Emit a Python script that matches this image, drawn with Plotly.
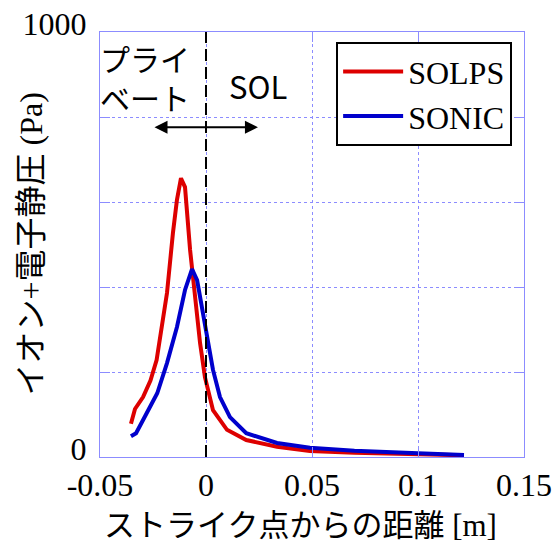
import plotly.graph_objects as go

# SOLPS (red)
solps_x = [-0.0354, -0.0335, -0.0297, -0.0262, -0.0233, -0.0184, -0.0156, -0.0137,
           -0.0118, -0.0099, -0.0075, -0.0052, -0.0028, -0.0005, 0.0033, 0.0099,
           0.019, 0.0335, 0.049, 0.07, 0.1, 0.1217]
solps_y = [78, 113, 141, 180, 228, 386, 527, 605, 656, 635, 487, 369, 268, 188,
           110, 64, 40, 24, 14, 10, 6, 4]

# SONIC (blue)
sonic_x = [-0.0354, -0.033, -0.028, -0.023, -0.0184, -0.0137, -0.0099, -0.0066,
           -0.0042, -0.0019, 0.0005, 0.0033, 0.0066, 0.0113, 0.019, 0.0335,
           0.049, 0.07, 0.1, 0.1217]
sonic_y = [49, 56, 103, 150, 221, 306, 393, 442, 416, 353, 282, 205, 141, 94,
           56, 33, 22, 15, 9, 5]

x_ticks = [-0.05, 0, 0.05, 0.1, 0.15]
x_tick_text = ["-0.05", "0", "0.05", "0.1", "0.15"]
y_ticks = [0, 200, 400, 600, 800, 1000]
y_tick_text = ["0", "", "", "", "", "1000"]

serif = "Liberation Serif, Times New Roman, serif"
cjk = "Noto Sans CJK JP, sans-serif"
mixed = "Liberation Serif, Noto Sans CJK JP, serif"
grid_col = "#8c8cff"

fig = go.Figure()
fig.add_trace(go.Scatter(x=solps_x, y=solps_y, mode="lines", name="SOLPS",
                         line=dict(color="#dd0000", width=4)))
fig.add_trace(go.Scatter(x=sonic_x, y=sonic_y, mode="lines", name="SONIC",
                         line=dict(color="#0000cc", width=4)))

fig.add_shape(type="line", x0=0, x1=0, y0=0, y1=1000, xref="x", yref="y",
              line=dict(color="black", width=2, dash="12px,6px"))

fig.add_annotation(x=0.0245, y=776, ax=-0.025, ay=776, xref="x", yref="y",
                   axref="x", ayref="y", text="", showarrow=True,
                   arrowside="end+start", arrowhead=2, arrowsize=1.3,
                   arrowwidth=2, arrowcolor="black")
fig.add_annotation(x=-0.004, y=0.995, xref="paper", yref="paper", xanchor="left",
                   yanchor="top", text="プライ<br>ベート", showarrow=False,
                   align="left", font=dict(family=cjk, size=30, color="black"))
fig.add_annotation(x=0.0245, y=875, xref="x", yref="y", text="SOL",
                   showarrow=False, font=dict(family=cjk, size=31, color="black"))

fig.add_annotation(x=-0.165, y=0.5, xref="paper", yref="paper", textangle=-90,
                   xanchor="center", yanchor="middle",
                   text="イオン+電子静圧 (Pa)",
                   showarrow=False, font=dict(family=mixed, size=32, color="black"))
fig.add_annotation(x=0.472, y=-0.16, xref="paper", yref="paper",
                   xanchor="center", yanchor="middle",
                   text="ストライク点からの距離 [m]", showarrow=False,
                   font=dict(family=mixed, size=31, color="black"))

axis_common = dict(showgrid=True, gridcolor=grid_col, griddash="dot", gridwidth=1,
                   showline=True, linecolor=grid_col, linewidth=1, mirror="ticks",
                   ticks="inside", ticklen=10, tickcolor=grid_col, zeroline=False,
                   automargin=False,
                   tickfont=dict(family=serif, size=32, color="black"))

fig.update_xaxes(range=[-0.05, 0.15], tickvals=x_ticks, ticktext=x_tick_text,
                 ticklabelstandoff=0, **axis_common)
fig.update_yaxes(range=[0, 1000], tickvals=y_ticks, ticktext=y_tick_text,
                 ticklabelshift=-8, ticklabelstandoff=6, **axis_common)

fig.update_layout(
    width=555, height=543,
    margin=dict(l=100, r=31, t=32, b=86, autoexpand=False),
    paper_bgcolor="white", plot_bgcolor="white",
    showlegend=True,
    legend=dict(x=0.972, y=0.976, xanchor="right", yanchor="top",
                bgcolor="white", bordercolor="black", borderwidth=2,
                font=dict(family=serif, size=32, color="black"),
                itemwidth=60, tracegroupgap=0),
)

fig.write_html("out.html")
